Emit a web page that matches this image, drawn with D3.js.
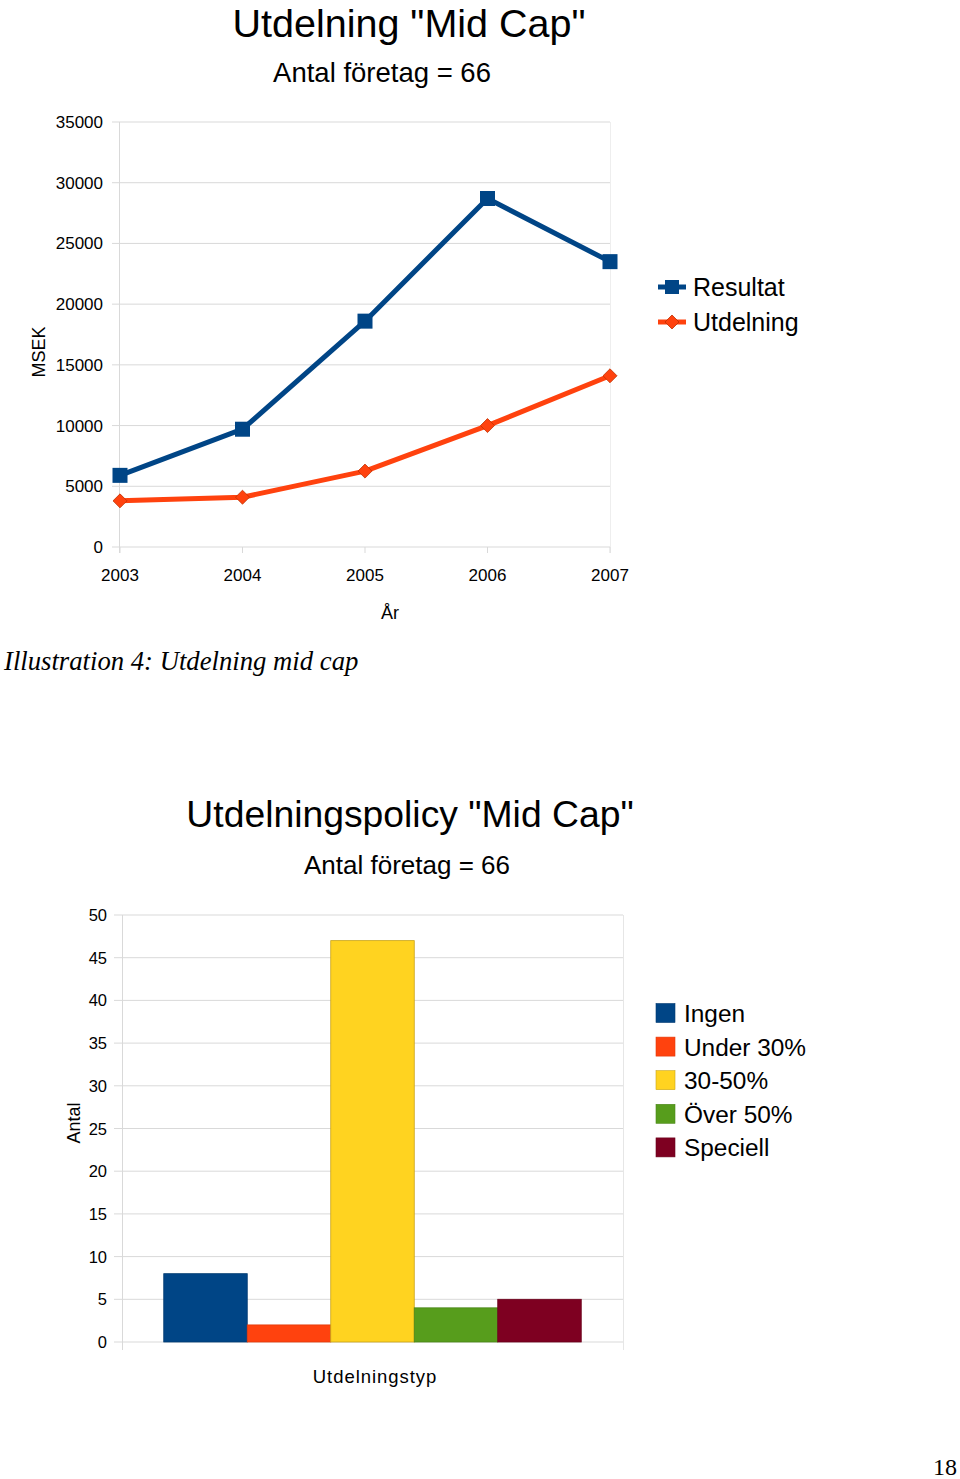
<!DOCTYPE html>
<html><head><meta charset="utf-8">
<script src="https://cdn.jsdelivr.net/npm/d3@7"></script>
<style>body{margin:0;background:#fff}svg{display:block}text{font-family:"Liberation Sans",Arial,sans-serif;fill:#000}</style>
</head><body>
<script>
// Top chart data
const years = ["2003","2004","2005","2006","2007"];
const resultat = [5900, 9700, 18600, 28700, 23500];
const utdelning = [3800, 4100, 6250, 10000, 14100];
const topTicks = [0,5000,10000,15000,20000,25000,30000,35000];
const lineSeries = ["Resultat","Utdelning"];
// Bottom chart data
const categories = ["Ingen","Under 30%","30-50%","Över 50%","Speciell"];
const counts = [8, 2, 47, 4, 5];
const bottomTicks = [0,5,10,15,20,25,30,35,40,45,50];

const W=960,H=1479;
const svg=d3.select("body").append("svg").attr("width",W).attr("height",H);
const grid="#d9d9d9";
const cBlue="#004586",cOrange="#ff420e";

// ---------- Top chart ----------
svg.append("text").attr("x",409).attr("y",37).attr("text-anchor","middle").style("font-size","39.5px").text('Utdelning "Mid Cap"');
svg.append("text").attr("x",382).attr("y",82).attr("text-anchor","middle").style("font-size","27.5px").text("Antal företag = 66");

const x1=d3.scalePoint().domain(years).range([120,610]);
const y1=d3.scaleLinear().domain([0,35000]).range([547,122]);
const g1=svg.append("g");
g1.selectAll("line.grid").data(topTicks).join("line").attr("x1",112).attr("x2",610)
  .attr("y1",d=>y1(d)).attr("y2",d=>y1(d)).attr("stroke",grid).attr("stroke-width",1);
g1.append("line").attr("x1",119.5).attr("x2",119.5).attr("y1",122).attr("y2",553).attr("stroke",grid);
g1.append("line").attr("x1",610.5).attr("x2",610.5).attr("y1",122).attr("y2",553).attr("stroke","#eee");
g1.selectAll("line.xt").data(years).join("line").attr("x1",d=>x1(d)).attr("x2",d=>x1(d)).attr("y1",547).attr("y2",553).attr("stroke",grid);
g1.selectAll("text.yl").data(topTicks).join("text").attr("x",103).attr("y",d=>y1(d)+6).attr("text-anchor","end").style("font-size","17px").text(d=>d);
g1.selectAll("text.xl").data(years).join("text").attr("x",d=>x1(d)).attr("y",581).attr("text-anchor","middle").style("font-size","17px").text(d=>d);
svg.append("text").attr("x",390).attr("y",619).attr("text-anchor","middle").style("font-size","18px").text("År");
svg.append("text").attr("transform","translate(45,352) rotate(-90)").attr("text-anchor","middle").style("font-size","18px").text("MSEK");

const line=d3.line().x((d,i)=>x1(years[i])).y(d=>y1(d));
g1.append("path").datum(resultat).attr("d",line).attr("fill","none").attr("stroke",cBlue).attr("stroke-width",5).attr("stroke-linejoin","round");
g1.append("path").datum(utdelning).attr("d",line).attr("fill","none").attr("stroke",cOrange).attr("stroke-width",5).attr("stroke-linejoin","round");
g1.selectAll("rect.m").data(resultat).join("rect").attr("x",(d,i)=>x1(years[i])-7.5).attr("y",d=>y1(d)-7.5).attr("width",15).attr("height",15).attr("fill",cBlue);
const dia=d3.symbol().type(d3.symbolDiamond2).size(125);
g1.selectAll("path.m").data(utdelning).join("path").attr("d",dia).attr("transform",(d,i)=>`translate(${x1(years[i])},${y1(d)})`).attr("fill",cOrange).attr("stroke","#c03000").attr("stroke-width",0.8);

// legend top
const lg=svg.append("g");
lineSeries.forEach((s,i)=>{
  const yy=287+i*35, col=i===0?cBlue:cOrange;
  lg.append("line").attr("x1",658).attr("x2",686).attr("y1",yy).attr("y2",yy).attr("stroke",col).attr("stroke-width",5);
  if(i===0) lg.append("rect").attr("x",665).attr("y",yy-7).attr("width",14).attr("height",14).attr("fill",col);
  else lg.append("path").attr("d",dia).attr("transform",`translate(672,${yy})`).attr("fill",col).attr("stroke","#c03000").attr("stroke-width",0.8);
  lg.append("text").attr("x",693).attr("y",yy+9).style("font-size","25px").text(s);
});

svg.append("text").attr("x",4).attr("y",670).style("font-family","'Liberation Serif','Times New Roman',serif").style("font-style","italic").style("font-size","26.7px").text("Illustration 4: Utdelning mid cap");

// ---------- Bottom chart ----------
svg.append("text").attr("x",410).attr("y",827).attr("text-anchor","middle").style("font-size","37.3px").text('Utdelningspolicy "Mid Cap"');
svg.append("text").attr("x",407).attr("y",874).attr("text-anchor","middle").style("font-size","26px").text("Antal företag = 66");

const y2=d3.scaleLinear().domain([0,50]).range([1342,915]);
const xg=d3.scaleBand().domain(["g"]).range([122,623]).paddingInner(0).paddingOuter(0.1);
const xs=d3.scaleBand().domain(categories).range([xg("g"),xg("g")+xg.bandwidth()]);
const colors=d3.scaleOrdinal().domain(categories).range(["#004586","#ff420e","#ffd320","#579d1c","#7e0021"]);
const strokes=d3.scaleOrdinal().domain(categories).range(["#003a70","#e03a0c","#c9a417","#4a8518","#6a001b"]);
const g2=svg.append("g");
g2.selectAll("line.grid").data(bottomTicks).join("line").attr("x1",114).attr("x2",623)
  .attr("y1",d=>y2(d)).attr("y2",d=>y2(d)).attr("stroke",grid);
g2.append("line").attr("x1",122.5).attr("x2",122.5).attr("y1",915).attr("y2",1350).attr("stroke",grid);
g2.append("line").attr("x1",623.5).attr("x2",623.5).attr("y1",915).attr("y2",1350).attr("stroke","#e6e6e6");
g2.selectAll("text.yl").data(bottomTicks).join("text").attr("x",107).attr("y",d=>y2(d)+6).attr("text-anchor","end").style("font-size","16.5px").text(d=>d);
g2.selectAll("rect.bar").data(categories).join("rect")
  .attr("x",d=>xs(d)).attr("width",xs.bandwidth())
  .attr("y",(d,i)=>y2(counts[i])).attr("height",(d,i)=>y2(0)-y2(counts[i]))
  .attr("fill",d=>colors(d)).attr("stroke",d=>strokes(d)).attr("stroke-width",0.8);
svg.append("text").attr("x",375).attr("y",1383).attr("text-anchor","middle").style("font-size","18.5px").style("letter-spacing","0.95px").text("Utdelningstyp");
svg.append("text").attr("transform","translate(80,1123) rotate(-90)").attr("text-anchor","middle").style("font-size","18px").text("Antal");

const lg2=svg.append("g");
categories.forEach((c,i)=>{
  const yy=1013+i*33.6;
  lg2.append("rect").attr("x",656).attr("y",yy-9.5).attr("width",19).attr("height",19).attr("fill",colors(c)).attr("stroke",strokes(c)).attr("stroke-width",0.6);
  lg2.append("text").attr("x",684).attr("y",yy+9).style("font-size","24.4px").text(c);
});

svg.append("text").attr("x",957).attr("y",1475).attr("text-anchor","end").style("font-family","'Liberation Serif','Times New Roman',serif").style("font-size","24px").text("18");
</script>
</body></html>
